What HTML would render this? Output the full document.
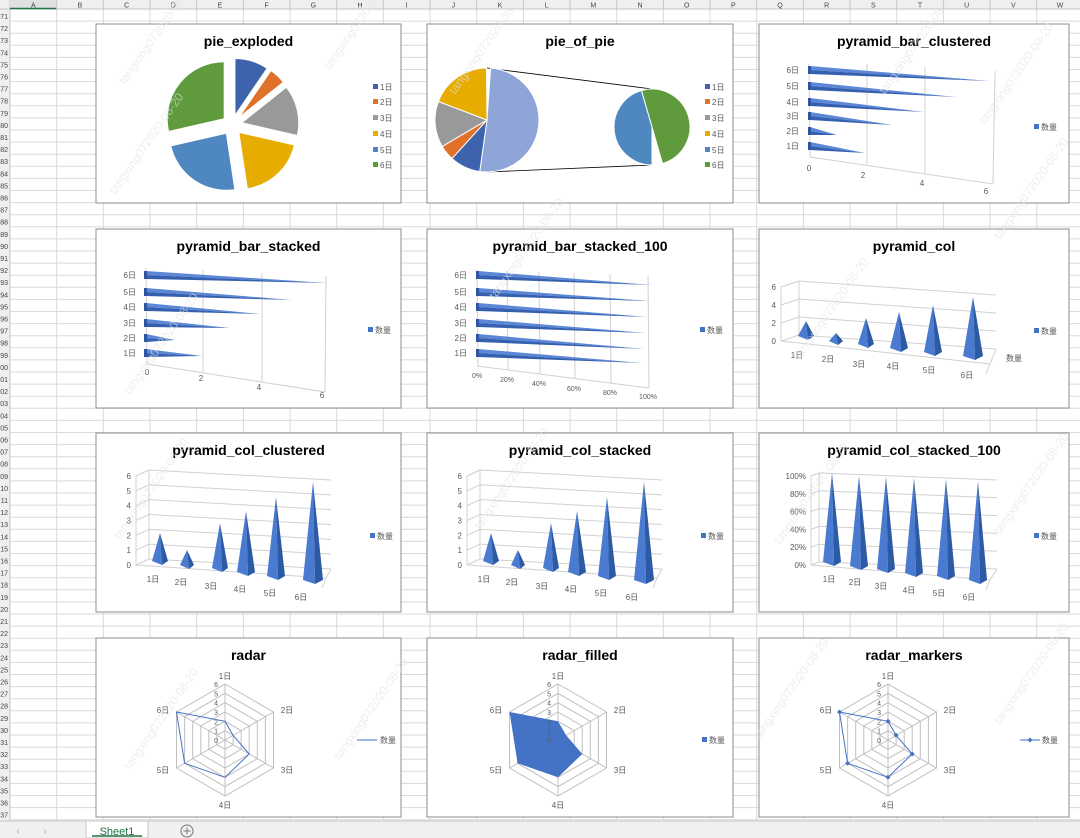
<!DOCTYPE html>
<html><head><meta charset="utf-8"><style>
html,body{margin:0;padding:0;width:1080px;height:838px;overflow:hidden;background:#fff}
svg{display:block;font-family:"Liberation Sans","Noto Sans CJK SC",sans-serif}
</style></head><body>
<svg id="s" width="1080" height="838" viewBox="0 0 1080 838" xmlns="http://www.w3.org/2000/svg"></svg>
<script>
var s='';
function T(x,y,str,sz,anchor,fill,extra){s+='<text x="'+x+'" y="'+y+'" font-size="'+(sz||8)+'" text-anchor="'+(anchor||'start')+'" fill="'+(fill||'#595959')+'" '+(extra||'')+'>'+str+'</text>';}
function L(x1,y1,x2,y2,c,w){s+='<line x1="'+x1+'" y1="'+y1+'" x2="'+x2+'" y2="'+y2+'" stroke="'+(c||'#d9d9d9')+'" stroke-width="'+(w||1)+'"/>';}
function P(pts,fill,extra){s+='<polygon points="'+pts.map(function(p){return p[0].toFixed(1)+','+p[1].toFixed(1)}).join(' ')+'" fill="'+fill+'" '+(extra||'')+'/>';}
s+='<rect width="1080" height="838" fill="#fff"/>';
for(var y=9;y<821;y+=12.1)L(0,y,1080,y,'#dadada');
var cols='ABCDEFGHIJKLMNOPQRSTUVW';
for(var i=0;i<=23;i++){var x=10+i*46.67;L(x,0,x,821,'#dadada');}
s+='<rect x="0" y="0" width="1080" height="9" fill="#efefef"/>';
s+='<rect x="0" y="0" width="10" height="821" fill="#efefef"/>';
L(0,9,1080,9,'#c6c6c6');L(10,0,10,821,'#c6c6c6');
s+='<rect x="10" y="0" width="46.67" height="9" fill="#e1e1e1"/>';L(10,8.5,56.7,8.5,'#217346',1.5);
for(var i=0;i<23;i++){T(10+i*46.67+23.3,7.5,cols[i],7,'middle','#444');L(10+(i+1)*46.67,0,10+(i+1)*46.67,9,'#c6c6c6');}
for(var r=0;r<67;r++){T(8,19+r*12.1,String(71+r).slice(-2),7,'end','#444');}
s+='<rect x="0" y="821" width="1080" height="17" fill="#f0f0f0"/>';L(0,821,1080,821,'#c6c6c6');
s+='<rect x="86" y="821" width="62" height="17" fill="#fff" stroke="#c6c6c6"/>';
T(117,835,'Sheet1',11,'middle','#217346');L(92,836,142,836,'#217346',1.5);
T(18,834,'‹',10,'middle','#aaa');T(45,834,'›',10,'middle','#aaa');
s+='<circle cx="187" cy="831" r="6" fill="none" stroke="#777"/>';L(183.5,831,190.5,831,'#777');L(187,827.5,187,834.5,'#777');
var boxes=[[96,24,305,179],[427,24,306,179],[759,24,310,179]];
var rowsY=[24,229,433,638];
var titles=[['pie_exploded','pie_of_pie','pyramid_bar_clustered'],['pyramid_bar_stacked','pyramid_bar_stacked_100','pyramid_col'],['pyramid_col_clustered','pyramid_col_stacked','pyramid_col_stacked_100'],['radar','radar_filled','radar_markers']];
for(var r=0;r<4;r++)for(var c=0;c<3;c++){var b=boxes[c];s+='<rect x="'+b[0]+'" y="'+rowsY[r]+'" width="'+b[2]+'" height="'+b[3]+'" fill="#fff" stroke="#8c8c8c"/>';T(b[0]+b[2]/2,rowsY[r]+22,titles[r][c],14,'middle','#000','font-weight="bold"');}
var cl=['#3d63ad','#e0712a','#999999','#e6ad00','#4f87c0','#5f9a3c'];
function pt(cx,cy,r,a){a=a*Math.PI/180;return[cx+r*Math.sin(a),cy-r*Math.cos(a)];}
function slice(cx,cy,r,a0,a1,col,ex){var m=(a0+a1)/2,o=pt(0,0,ex,m);cx+=o[0];cy+=o[1];var p0=pt(cx,cy,r,a0),p1=pt(cx,cy,r,a1);
s+='<path d="M'+cx+','+cy+' L'+p0[0]+','+p0[1]+' A'+r+','+r+' 0 '+((a1-a0)>180?1:0)+' 1 '+p1[0]+','+p1[1]+' Z" fill="'+col+'" stroke="#fff" stroke-width="1"/>';}
function legend(x,col){var ys=[87,102,118,134,150,165];for(var i=0;i<6;i++){s+='<rect x="'+x+'" y="'+(ys[i]-3)+'" width="5" height="5" fill="'+cl[i]+'"/>';T(x+7,ys[i]+3,(i+1)+'日',8);}}
var v=[2,1,3,4,5,6],a=0;
for(var i=0;i<6;i++){var d=v[i]/21*360;slice(232,125,57,a,a+d,cl[i],10);a+=d;}
legend(373);
L(487,68,652,89,'#000',0.8);L(487,172,652,165,'#000',0.8);
slice(487,120,52,4,184+4,'#8fa5d8',0);
a=184+4;for(var i=0;i<4;i++){var d=v[i]/21*360;slice(487,120,52,a,a+d,cl[i],0);a+=d;}
slice(652,127,38,180,180+164,cl[4],0);slice(652,127,38,-16,164,cl[5],0);
legend(705);
var BL='#4472c4';
function hbar(x0,yc,xt,yt,h){P([[x0,yc-h],[xt,yt],[x0,yc]],'#5b87d6');P([[x0,yc],[xt,yt],[x0,yc+h]],'#3560b0');s+='<rect x="'+(x0-2)+'" y="'+(yc-h)+'" width="3" height="'+(2*h)+'" fill="#2f55a0"/>';}
function leg1(x,y){s+='<rect x="'+x+'" y="'+(y-3)+'" width="5" height="5" fill="'+BL+'"/>';T(x+7,y+3,'数量',8);}
L(809,64,810,157,'#d0d0d0');L(867,64,867,164,'#d0d0d0');L(925,67,925,174,'#d0d0d0');L(995,71,993,184,'#d0d0d0');L(810,157,993,184,'#d0d0d0');
var c3=[[146,865,153],[131,837,135],[116,892,125],[102,924,112],[86,956,97],[70,989,81]];
for(var i=5;i>=0;i--){T(799,c3[i][0]+3,(i+1)+'日',8,'end');hbar(810,c3[i][0],c3[i][1],c3[i][2],4);}
T(809,171,'0',8,'middle');T(863,178,'2',8,'middle');T(922,186,'4',8,'middle');T(986,194,'6',8,'middle');leg1(1034,127);
L(146,268,147,364,'#d0d0d0');L(203,270,203,372,'#d0d0d0');L(262,273,262,382,'#d0d0d0');L(326,276,325,392,'#d0d0d0');L(147,364,325,392,'#d0d0d0');
var c4=[[353,202,356],[338,175,340],[323,230,328],[307,260,314],[292,292,300],[275,327,283]];
for(var i=5;i>=0;i--){T(136,c4[i][0]+3,(i+1)+'日',8,'end');hbar(146,c4[i][0],c4[i][1],c4[i][2],4);}
T(147,375,'0',8,'middle');T(201,381,'2',8,'middle');T(259,390,'4',8,'middle');T(322,398,'6',8,'middle');leg1(368,330);
for(var k=0;k<=5;k++){var xb=[477,507,539,574,610,648][k];L(xb,[270,271,272,273,274,276][k],xb+1,[366,370,374,378,383,388][k],'#d0d0d0');}
L(477,366,649,388,'#d0d0d0');
var c5=[[353,642,363],[338,644,349],[323,646,333],[307,648,317],[292,650,301],[275,652,285]];
for(var i=5;i>=0;i--){T(467,c5[i][0]+3,(i+1)+'日',8,'end');hbar(478,c5[i][0],c5[i][1],c5[i][2],4);}
var pl=['0%','20%','40%','60%','80%','100%'],px=[477,507,539,574,610,648],py=[378,382,386,391,395,399];for(var k=0;k<6;k++)T(px[k],py[k],pl[k],7,'middle');
leg1(700,330);
function col(pxx,pyy,by,w){P([[pxx-w,by-1],[pxx,pyy],[pxx+2,by+3]],'#4a7bd0');P([[pxx+2,by+3],[pxx,pyy],[pxx+w,by-1]],'#2c5aa5');}
function wall(lx,labels,ytop,ybot,bx,dy,rx,rdy){var n=labels.length-1;for(var k=0;k<=n;k++){var yy=ybot-(ybot-ytop)*k/n;L(lx,yy,bx,yy-dy,'#d0d0d0');L(bx,yy-dy,rx,yy-dy+rdy,'#d0d0d0');T(lx-5,yy+3,labels[k],8,'end');}L(lx,ytop,lx,ybot,'#d0d0d0');L(bx,ytop-dy,bx,ybot-dy,'#d0d0d0');}
wall(781,['0','2','4','6'],287,341,799,6,996,14);L(781,341,990,364,'#d0d0d0');L(990,364,996,349,'#d0d0d0');L(990,364,986,374,'#d0d0d0');
var c6=[[806,321,337,8],[836,333,342,7],[866,318,345,8],[899,312,349,9],[933,305,353,9],[973,297,357,10]];
var l6=[[797,358],[828,362],[859,367],[893,369],[929,373],[967,378]];
for(var i=0;i<6;i++){col(c6[i][0],c6[i][1],c6[i][2],c6[i][3]);T(l6[i][0],l6[i][1],(i+1)+'日',8,'middle');}
T(1006,361,'数量',8);leg1(1034,331);
function cc(dx){wall(136+dx,['0','1','2','3','4','5','6'],476,565,149+dx,6,331+dx,10);L(136+dx,565,326+dx,578,'#d0d0d0');L(326+dx,578,331+dx,569,'#d0d0d0');L(326+dx,578,322+dx,588,'#d0d0d0');
var c7=[[160,533,562,8],[187,550,566,7],[220,523,569,8],[246,511,573,9],[276,497,577,9],[313,482,581,10]];
var l7=[[153,582],[181,585],[211,589],[240,592],[270,596],[301,600]];
for(var i=0;i<6;i++){col(c7[i][0]+dx,c7[i][1],c7[i][2],c7[i][3]);T(l7[i][0]+dx,l7[i][1],(i+1)+'日',8,'middle');}leg1(370+dx,536);}
cc(0);cc(331);
wall(811,['0%','20%','40%','60%','80%','100%'],476,565,819,3,997,7);L(811,565,990,580,'#d0d0d0');L(990,580,997,569,'#d0d0d0');L(990,580,986,590,'#d0d0d0');
var c9x=[832,859,886,914,946,978],c9p=[473,476,477,478,479,481],c9b=[563,567,570,574,577,581],l9=[[829,582],[855,585],[881,589],[909,593],[939,596],[969,600]];
for(var i=0;i<6;i++){col(c9x[i],c9p[i],c9b[i],9);T(l9[i][0],l9[i][1],(i+1)+'日',8,'middle');}leg1(1034,536);
function radar(cx,type){var cy=740,R=56;for(var k=1;k<=6;k++){var pts=[];for(var j=0;j<6;j++)pts.push(pt(cx,cy,R*k/6,j*60));P(pts,'none','stroke="#bfbfbf" stroke-width="1"');}
for(var j=0;j<6;j++){var p=pt(cx,cy,R,j*60);L(cx,cy,p[0],p[1],'#bfbfbf');}
var dp=v.map(function(val,j){return pt(cx,cy,R*val/6,j*60);});
if(type==1)P(dp,'#4472c4');
for(var k=0;k<=6;k++)T(cx-7,cy+3-R*k/6,String(k),7,'end','#595959');
var lp=[[cx,cy-R-5],[cx+62,cy-27],[cx+62,cy+33],[cx,cy+R+12],[cx-62,cy+33],[cx-62,cy-27]];
for(var j=0;j<6;j++)T(lp[j][0],lp[j][1],(j+1)+'日',8,'middle');
if(type!=1)P(dp,'none','stroke="#4472c4" stroke-width="1"');
if(type==2)dp.forEach(function(p){P([[p[0],p[1]-2.5],[p[0]+2.5,p[1]],[p[0],p[1]+2.5],[p[0]-2.5,p[1]]],'#4472c4');});}
radar(225,0);radar(558,1);radar(888,2);
L(357,740,377,740,'#4472c4');T(380,743,'数量',8);
leg1(702,740);
L(1020,740,1040,740,'#4472c4');P([[1030,737.5],[1032.5,740],[1030,742.5],[1027.5,740]],'#4472c4');T(1042,743,'数量',8);
var wm=[[125,85],[330,70],[115,195],[455,95],[985,125],[885,95],[130,395],[495,300],[800,360],[1000,240],[120,540],[480,530],[780,545],[1000,535],[340,760],[1000,725],[130,770],[760,740]];
wm.forEach(function(w){s+='<text x="'+w[0]+'" y="'+w[1]+'" font-size="12" fill="#e2e2e2" fill-opacity="0.6" transform="rotate(-55 '+w[0]+' '+w[1]+')">tangxing072020-08-20</text>';});
document.getElementById('s').innerHTML=s;
</script>
</body></html>
